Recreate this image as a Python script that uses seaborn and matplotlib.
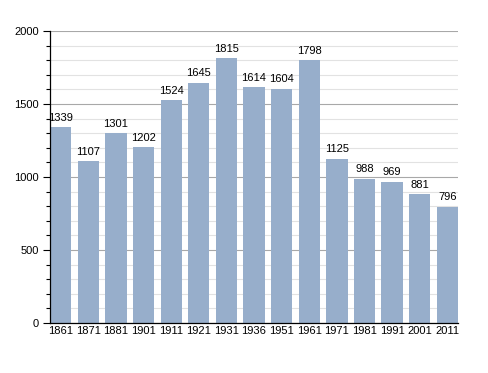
import pandas as pd
import seaborn as sns
from matplotlib import pyplot as plt
from matplotlib.ticker import MultipleLocator

years = ["1861", "1871", "1881", "1901", "1911", "1921", "1931", "1936",
         "1951", "1961", "1971", "1981", "1991", "2001", "2011"]
population = [1339, 1107, 1301, 1202, 1524, 1645, 1815, 1614,
              1604, 1798, 1125, 988, 969, 881, 796]

df = pd.DataFrame({"year": years, "pop": population})

sns.set_style("white")
plt.rcParams['font.family'] = ['Liberation Sans', 'DejaVu Sans']
plt.rcParams['text.color'] = 'black'
plt.rcParams['xtick.color'] = 'black'
plt.rcParams['ytick.color'] = 'black'

fig = plt.figure(figsize=(4.88, 3.73), dpi=100)
ax = fig.add_axes([0.1025, 0.134, 0.836, 0.783])

# grid lines first so bars sit on top
ax.yaxis.set_major_locator(MultipleLocator(500))
ax.yaxis.set_minor_locator(MultipleLocator(100))
ax.grid(which='major', axis='y', color='#a8a8a8', linewidth=0.8)
ax.grid(which='minor', axis='y', color='#e2e2e2', linewidth=0.8)
ax.set_axisbelow(True)

bw = 0.77
sns.barplot(data=df, x="year", y="pop", color='#97aecb', saturation=1,
            width=bw, linewidth=0, ax=ax)

for i, v in enumerate(population):
    ax.text(i, v + 30, str(v), ha='center', va='bottom', fontsize=8,
            color='black')

ax.set_xlim(-bw / 2, len(years) - 1 + bw / 2)
ax.set_ylim(0, 2000)
ax.set_xlabel("")
ax.set_ylabel("")

for s in ['top', 'right']:
    ax.spines[s].set_visible(False)
ax.spines['left'].set_color('black')
ax.spines['bottom'].set_color('black')
ax.spines['left'].set_linewidth(0.9)
ax.spines['bottom'].set_linewidth(0.9)

ax.tick_params(axis='y', which='major', length=5, width=0.8, left=True,
               labelsize=8, pad=3)
ax.tick_params(axis='y', which='minor', length=3, width=0.8, left=True)
ax.tick_params(axis='x', length=0, labelsize=8, pad=2)

fig.savefig("out.png", dpi=100)
